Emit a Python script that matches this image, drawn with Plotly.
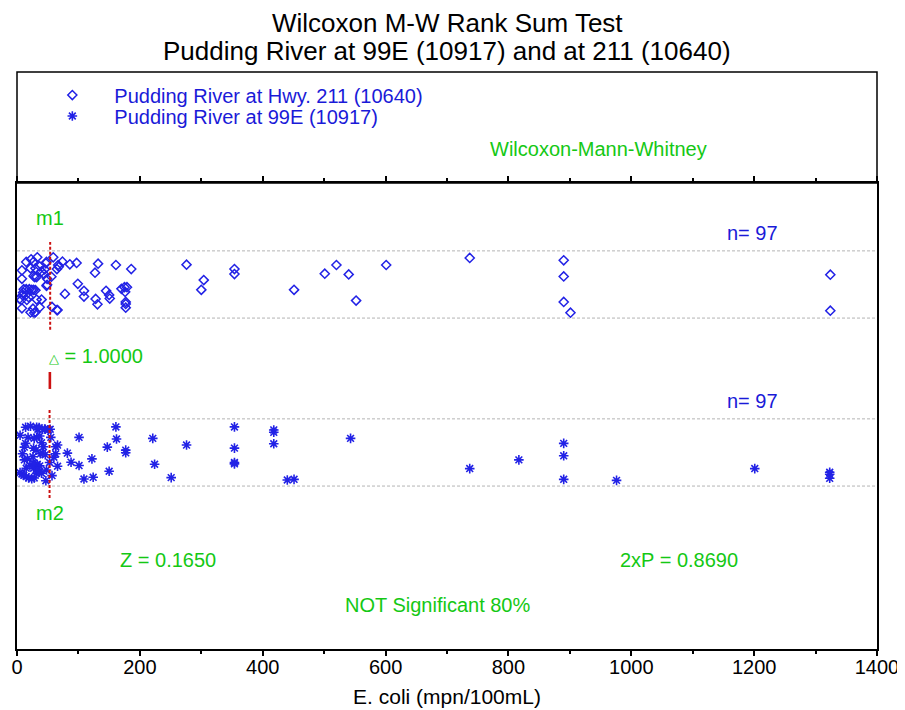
import plotly.graph_objects as go

# ---------------- data ----------------
series_names = ["Pudding River at Hwy. 211 (10640)", "Pudding River at 99E (10917)"]

# Site 10640 (Hwy. 211): E. coli values and vertical jitter (fraction of band half-height)
hwy211_x = [451, 501, 520, 540, 552, 601, 737, 890, 890, 890, 901, 1324, 1324, 276, 304, 300,
            354, 354, 186, 161, 132, 127, 99, 97, 86, 74, 78, 109, 109, 128, 131, 145, 150, 151,
            170, 175, 179, 176, 177, 177, 177, 67, 68, 65, 56, 57, 65, 66, 59, 48, 47, 45, 49, 49,
            8, 8, 15, 23, 27, 33, 22, 30, 29, 32, 27, 37, 40, 44, 11, 15, 20, 24, 27, 30, 10, 9,
            7, 4, 16, 32, 40, 8, 22, 26, 28, 30, 37, 14, 19, 48]
hwy211_jitter = [-0.16, 0.32, 0.58, 0.30, -0.48, 0.58, 0.79, 0.72, 0.24, -0.52, -0.84, 0.29, -0.78,
                 0.59, 0.13, -0.16, 0.46, 0.31, 0.46, 0.58, 0.62, 0.35, 0.02, 0.64, 0.60, 0.68,
                 -0.28, -0.19, -0.36, -0.43, -0.59, -0.19, -0.31, -0.42, -0.13, -0.08, -0.08,
                 -0.22, -0.52, -0.58, -0.69, 0.58, 0.53, 0.46, 0.23, -0.67, -0.76, -0.76, 0.81,
                 0.67, 0.63, 0.45, 0.17, -0.01, 0.42, 0.17, 0.67, 0.75, 0.68, 0.81, 0.48, 0.48,
                 0.22, 0.22, 0.25, 0.54, 0.39, 0.31, -0.14, -0.14, -0.14, -0.16, -0.16, -0.17,
                 -0.24, -0.32, -0.46, -0.43, -0.46, -0.45, -0.45, -0.71, -0.83, -0.72, -0.85,
                 -0.82, -0.68, -0.32, -0.38, -0.04]

# Site 10917 (99E)
e99_x = [161, 162, 101, 147, 177, 177, 221, 276, 354, 354, 354, 354, 418, 418, 418, 440, 451, 224,
         251, 122, 124, 109, 150, 101, 88, 82, 66, 63, 63, 60, 66, 57, 53, 55, 51, 54, 46, 47, 48,
         543, 737, 817, 890, 890, 890, 976, 1201, 1323, 1323, 1323, 5, 14, 22, 32, 34, 36, 18, 28,
         32, 37, 45, 14, 12, 9, 27, 31, 43, 41, 38, 12, 17, 29, 33, 37, 27, 34, 5, 8, 11, 15, 19,
         24, 28, 32, 36, 40, 15, 21, 27, 26, 46, 40]
e99_jitter = [0.76, 0.40, 0.45, 0.16, 0.07, -0.01, 0.42, 0.22, 0.76, 0.13, -0.30, -0.34, 0.67, 0.60,
              0.26, -0.82, -0.80, -0.35, -0.75, -0.19, -0.74, -0.79, -0.56, -0.39, -0.29, -0.02,
              0.22, 0.17, -0.04, -0.14, -0.41, -0.69, -0.30, 0.45, 0.67, 0.69, 0.69, -0.84, -0.52,
              0.42, -0.48, -0.22, 0.27, -0.10, -0.80, -0.83, -0.48, -0.59, -0.65, -0.77, 0.51,
              0.75, 0.78, 0.75, 0.69, 0.74, 0.45, 0.42, 0.45, 0.49, 0.70, 0.27, 0.16, -0.04, 0.13,
              0.07, 0.17, -0.02, -0.04, -0.22, -0.19, -0.36, -0.35, -0.40, -0.47, -0.50, -0.60,
              -0.64, -0.68, -0.72, -0.76, -0.78, -0.76, -0.62, -0.56, -0.62, -0.47, -0.38, -0.32,
              -0.13, -0.07, 0.29]

n_counts = [97, 97]
medians = [54, 53]          # m1, m2
delta = 1.0
z_stat = 0.1650
two_p = 0.8690
sig_text = "NOT Significant 80%"
x_ticks = [0, 200, 400, 600, 800, 1000, 1200, 1400]

# ---------------- layout helpers ----------------
BLUE = "#1a1ad8"
MBLUE = "#2222e6"
GREEN = "#14c814"
RED = "#cc1111"
FONT = "Arial, 'Liberation Sans', sans-serif"
center = [2.0, 1.0]
half = 0.2
Y0, Y1 = -0.17, 2.604
dom_top = 0.8076

fig = go.Figure()
fig.add_trace(go.Scatter(
    x=hwy211_x, y=[center[0] + j * half for j in hwy211_jitter], mode="markers",
    name=series_names[0], legend="legend", showlegend=True,
    marker=dict(symbol="diamond-open", size=7, color=MBLUE, line=dict(width=1.5, color=MBLUE))))
fig.add_trace(go.Scatter(
    x=e99_x, y=[center[1] + j * half for j in e99_jitter], mode="markers",
    name=series_names[1], legend="legend2", showlegend=True,
    marker=dict(symbol="asterisk-open", size=8, color=MBLUE, line=dict(width=1.6, color=MBLUE))))

shapes = []
for c in center:
    for s in (-1, 1):
        shapes.append(dict(type="line", xref="paper", yref="y", x0=0, x1=1,
                           y0=c + s * half, y1=c + s * half,
                           line=dict(color="#b4b4b4", width=1, dash="3px,2px")))
# median lines
shapes.append(dict(type="line", xref="x", yref="y", x0=medians[0], x1=medians[0],
                   y0=center[0] - 0.27, y1=center[0] + 0.253,
                   line=dict(color=RED, width=2, dash="3px,2px")))
shapes.append(dict(type="line", xref="x", yref="y", x0=medians[1], x1=medians[1],
                   y0=center[1] - 0.271, y1=center[1] + 0.265,
                   line=dict(color=RED, width=2, dash="3px,2px")))
# delta bar
shapes.append(dict(type="rect", xref="x", yref="y", x0=medians[1], x1=medians[0],
                   y0=1.384, y1=1.473, line=dict(color=RED, width=2), fillcolor=RED))
# header box
shapes.append(dict(type="rect", xref="paper", yref="paper", x0=0, x1=1, y0=dom_top, y1=1,
                   line=dict(color="black", width=1.5)))

ann = []
def txt(x, y, s, color=GREEN, size=20, xref="x", yref="y", xanchor="center"):
    ann.append(dict(x=x, y=y, xref=xref, yref=yref, text=s, showarrow=False,
                    font=dict(family=FONT, size=size, color=color),
                    xanchor=xanchor, yanchor="middle"))

txt(medians[0], 2.396, "m1")
txt(medians[1], 0.640, "m2")
txt(1198, 2.307, f"n= {n_counts[0]}", color=BLUE)
txt(1198, 1.307, f"n= {n_counts[1]}", color=BLUE)
txt(49, 1.574, f"<span style='font-size:13px'>△</span> = {delta:.4f}", xanchor="left")
txt(246, 0.360, f"Z = {z_stat:.4f}")
txt(1078, 0.360, f"2xP = {two_p:.4f}")
txt(684, 0.092, sig_text)
txt(0.6756, 0.8666, "Wilcoxon-Mann-Whitney", xref="paper", yref="paper")
txt(0.5, 1.0849, "Wilcoxon M-W Rank Sum Test", color="black", size=26, xref="paper", yref="paper")
txt(0.5, 1.0364, "Pudding River at 99E (10917) and at 211 (10640)", color="black", size=26,
    xref="paper", yref="paper")

leg_common = dict(xanchor="left", yanchor="middle", itemwidth=74, bgcolor="rgba(0,0,0,0)",
                  font=dict(family=FONT, size=20, color=BLUE), borderwidth=0)

fig.update_layout(
    width=905, height=710,
    margin=dict(l=9, r=36, t=64, b=69, autoexpand=False),
    paper_bgcolor="white", plot_bgcolor="white",
    font=dict(family=FONT, color="black"),
    showlegend=True,
    shapes=shapes, annotations=ann,
    legend=dict(x=0.0155, y=0.960, **leg_common),
    legend2=dict(x=0.0155, y=0.9237, **leg_common),
    xaxis=dict(range=[0, 1400], tickvals=x_ticks, ticks="outside", ticklen=5, tickwidth=1.5,
               tickcolor="black", showline=True, linecolor="black", linewidth=1.5,
               mirror="ticks", showgrid=False, zeroline=False, automargin=False,
               ticklabelstandoff=-6,
               minor=dict(dtick=100, tick0=0, ticks="outside", ticklen=3, tickcolor="black"),
               tickfont=dict(family=FONT, size=20, color="black"),
               title=dict(text="E. coli (mpn/100mL)", font=dict(family=FONT, size=21, color="black"),
                          standoff=13)),
    yaxis=dict(range=[Y0, Y1], domain=[0, dom_top], showticklabels=False, ticks="",
               showline=True, linecolor="black", linewidth=1.5, mirror=True, automargin=False,
               showgrid=False, zeroline=False),
)

fig.write_html("out.html")
